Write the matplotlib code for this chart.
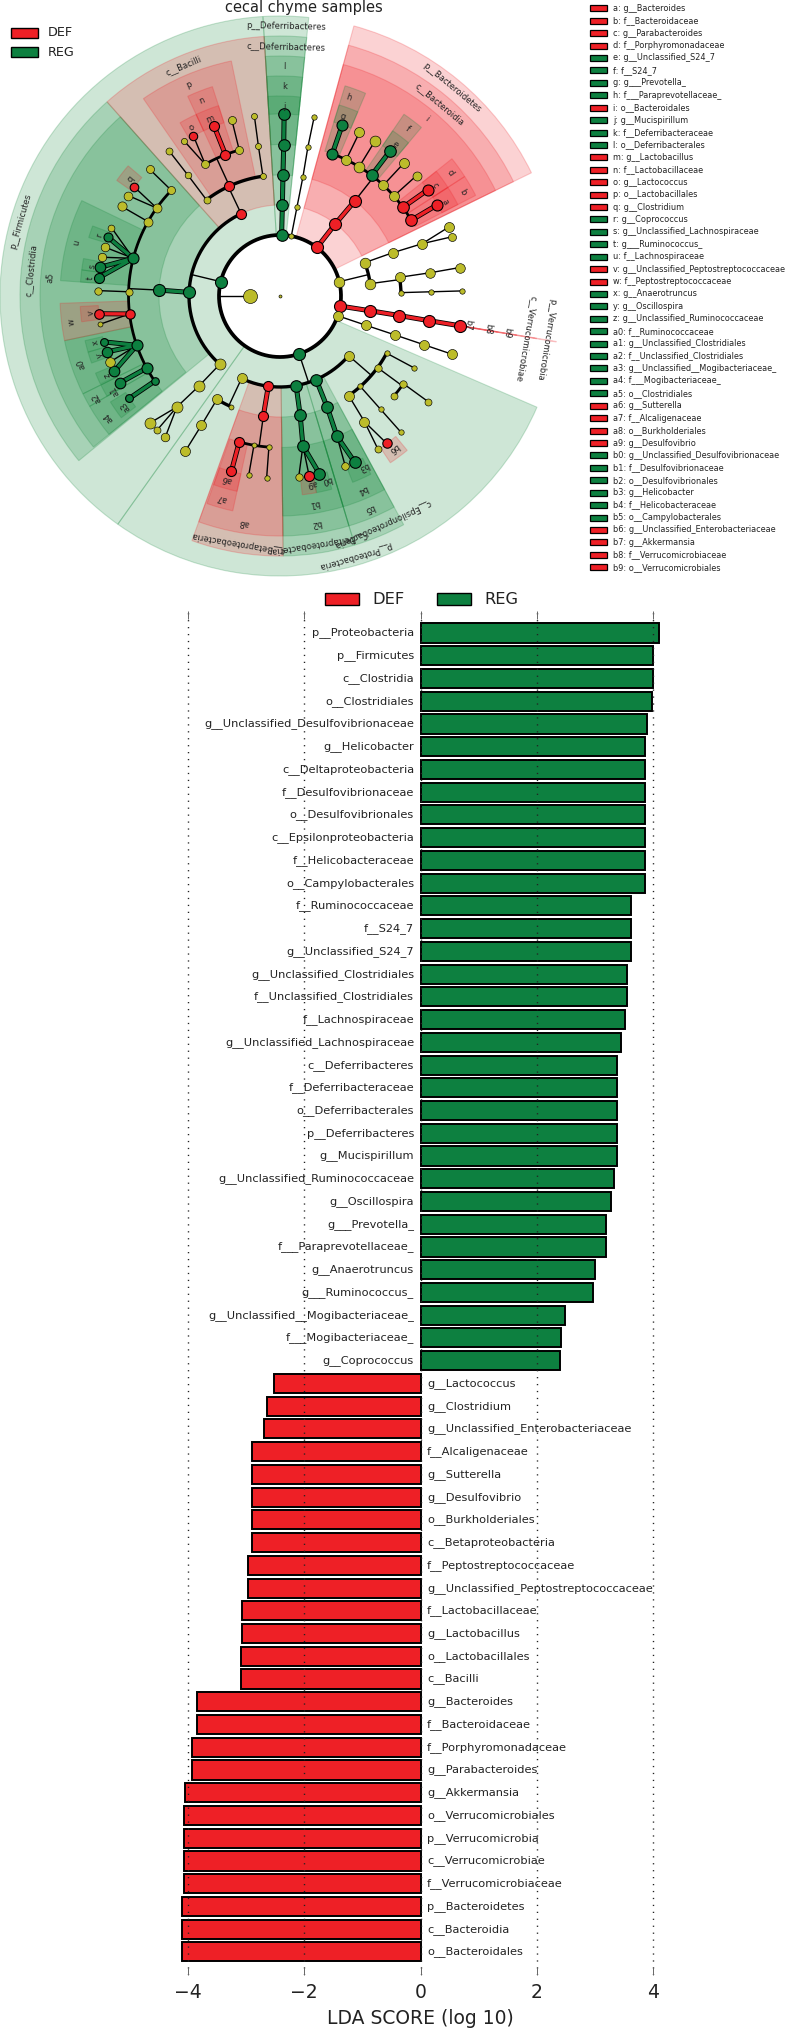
import numpy as np
from matplotlib import pyplot as plt
from matplotlib.colors import to_rgba
from matplotlib.patches import Rectangle

RED = '#ee2026'
GREEN = '#0d8040'
YELLOW = '#bcbc2a'
BAND_GREEN = '#0e8436'
node_colors = {'r': RED, 'g': GREEN, 'y': YELLOW}
band_colors = {'r': RED, 'g': BAND_GREEN}
key_colors = {'r': RED, 'g': GREEN}

# bar chart values, top to bottom
bar_labels = [
    'p__Proteobacteria', 'p__Firmicutes', 'c__Clostridia', 'o__Clostridiales',
    'g__Unclassified_Desulfovibrionaceae', 'g__Helicobacter', 'c__Deltaproteobacteria',
    'f__Desulfovibrionaceae', 'o__Desulfovibrionales', 'c__Epsilonproteobacteria',
    'f__Helicobacteraceae', 'o__Campylobacterales', 'f__Ruminococcaceae', 'f__S24_7',
    'g__Unclassified_S24_7', 'g__Unclassified_Clostridiales', 'f__Unclassified_Clostridiales',
    'f__Lachnospiraceae', 'g__Unclassified_Lachnospiraceae', 'c__Deferribacteres',
    'f__Deferribacteraceae', 'o__Deferribacterales', 'p__Deferribacteres', 'g__Mucispirillum',
    'g__Unclassified_Ruminococcaceae', 'g__Oscillospira', 'g___Prevotella_',
    'f___Paraprevotellaceae_', 'g__Anaerotruncus', 'g___Ruminococcus_',
    'g__Unclassified__Mogibacteriaceae_', 'f___Mogibacteriaceae_', 'g__Coprococcus',
    'g__Lactococcus', 'g__Clostridium', 'g__Unclassified_Enterobacteriaceae', 'f__Alcaligenaceae',
    'g__Sutterella', 'g__Desulfovibrio', 'o__Burkholderiales', 'c__Betaproteobacteria',
    'f__Peptostreptococcaceae', 'g__Unclassified_Peptostreptococcaceae', 'f__Lactobacillaceae',
    'g__Lactobacillus', 'o__Lactobacillales', 'c__Bacilli', 'g__Bacteroides', 'f__Bacteroidaceae',
    'f__Porphyromonadaceae', 'g__Parabacteroides', 'g__Akkermansia', 'o__Verrucomicrobiales',
    'p__Verrucomicrobia', 'c__Verrucomicrobiae', 'f__Verrucomicrobiaceae', 'p__Bacteroidetes',
    'c__Bacteroidia', 'o__Bacteroidales',
]
reg_scores = [4.09, 4.0, 3.99, 3.98, 3.9, 3.86, 3.86, 3.86, 3.86, 3.85, 3.85, 3.85, 3.62, 3.61,
              3.61, 3.55, 3.55, 3.51, 3.44, 3.38, 3.38, 3.38, 3.38, 3.38, 3.33, 3.27, 3.18, 3.18,
              3.0, 2.96, 2.49, 2.42, 2.4]
def_scores = [-2.51, -2.64, -2.69, -2.89, -2.89, -2.89, -2.89, -2.89, -2.96, -2.96, -3.07, -3.07,
              -3.09, -3.09, -3.84, -3.84, -3.93, -3.93, -4.05, -4.06, -4.06, -4.06, -4.06, -4.09,
              -4.09, -4.09]

# side legend of the cladogram
key_ids = ['a', 'b', 'c', 'd', 'e', 'f', 'g', 'h', 'i', 'j', 'k', 'l', 'm', 'n', 'o', 'p', 'q', 'r',
           's', 't', 'u', 'v', 'w', 'x', 'y', 'z', 'a0', 'a1', 'a2', 'a3', 'a4', 'a5', 'a6', 'a7',
           'a8', 'a9', 'b0', 'b1', 'b2', 'b3', 'b4', 'b5', 'b6', 'b7', 'b8', 'b9']
key_names = ['g__Bacteroides', 'f__Bacteroidaceae', 'g__Parabacteroides', 'f__Porphyromonadaceae',
             'g__Unclassified_S24_7', 'f__S24_7', 'g___Prevotella_', 'f___Paraprevotellaceae_',
             'o__Bacteroidales', 'g__Mucispirillum', 'f__Deferribacteraceae', 'o__Deferribacterales',
             'g__Lactobacillus', 'f__Lactobacillaceae', 'g__Lactococcus', 'o__Lactobacillales',
             'g__Clostridium', 'g__Coprococcus', 'g__Unclassified_Lachnospiraceae', 'g___Ruminococcus_',
             'f__Lachnospiraceae', 'g__Unclassified_Peptostreptococcaceae', 'f__Peptostreptococcaceae',
             'g__Anaerotruncus', 'g__Oscillospira', 'g__Unclassified_Ruminococcaceae',
             'f__Ruminococcaceae', 'g__Unclassified_Clostridiales', 'f__Unclassified_Clostridiales',
             'g__Unclassified__Mogibacteriaceae_', 'f___Mogibacteriaceae_', 'o__Clostridiales',
             'g__Sutterella', 'f__Alcaligenaceae', 'o__Burkholderiales', 'g__Desulfovibrio',
             'g__Unclassified_Desulfovibrionaceae', 'f__Desulfovibrionaceae', 'o__Desulfovibrionales',
             'g__Helicobacter', 'f__Helicobacteraceae', 'o__Campylobacterales',
             'g__Unclassified_Enterobacteriaceae', 'g__Akkermansia', 'f__Verrucomicrobiaceae',
             'o__Verrucomicrobiales']
key_groups = list('rrrrggggrgggrrrrrggggrrggg') + list('ggggggrrrr') + list('ggggggrrrr')

# cladogram: taxonomic level of each ring, read as radius on the picture
level_radius = [0, 30, 61, 91, 121, 151.5, 182]
band_outer = {2: 280, 3: 260, 4: 240, 5: 220, 6: 200}

# nodes: id, parent, level, angle (deg clockwise from top), group, node size
root_nodes = [('root', None, 0, 0, 'y', 1.5), ('k', None, 1, 270, 'y', 7)]
deferri_nodes = [
    ('d2', 'k', 2, 1.5, 'g', 5.8), ('d3', 'd2', 3, 1.5, 'g', 5.8), ('d4', 'd3', 4, 1.4, 'g', 5.8),
    ('d5', 'd4', 5, 1.4, 'g', 5.8), ('d6', 'd5', 6, 1.3, 'g', 5.8),
    ('e2', 'k', 2, 10.7, 'y', 2.6), ('e3', 'e2', 3, 10.8, 'y', 2.7), ('e4', 'e3', 4, 10.9, 'y', 2.7),
    ('e5', 'e4', 5, 10.6, 'y', 2.7), ('e6', 'e5', 6, 10.8, 'y', 2.7),
]
bacteroid_nodes = [
    ('b2', 'k', 2, 37.3, 'r', 6), ('b3', 'b2', 3, 37.5, 'r', 6), ('b4', 'b3', 4, 38.2, 'r', 6),
    ('b5a', 'b4', 5, 20.2, 'g', 5.5), ('b5b', 'b4', 5, 25.9, 'y', 5), ('b5c', 'b4', 5, 31.5, 'y', 5.4),
    ('b5d', 'b4', 5, 37.2, 'g', 5.8), ('b5e', 'b4', 5, 43, 'y', 5), ('b5f', 'b4', 5, 48.7, 'y', 5),
    ('b5g', 'b4', 5, 54.2, 'r', 5.8), ('b5h', 'b4', 5, 60, 'r', 5.8),
    ('b6a', 'b5a', 6, 20, 'g', 5.5), ('b6b', 'b5b', 6, 25.9, 'y', 5), ('b6c', 'b5c', 6, 31.5, 'y', 5.4),
    ('b6d', 'b5d', 6, 37.2, 'g', 5.8), ('b6e', 'b5e', 6, 43, 'y', 5), ('b6f', 'b5f', 6, 48.6, 'y', 4.5),
    ('b6g', 'b5g', 6, 54.3, 'r', 5.5), ('b6h', 'b5h', 6, 59.9, 'r', 5.5),
]
upper_yellow_nodes = [
    ('u2', 'k', 2, 76.4, 'y', 5.3), ('u3a', 'u2', 3, 68.5, 'y', 5.3), ('u3b', 'u2', 3, 82.2, 'y', 5.3),
    ('u4a', 'u3a', 4, 69, 'y', 5), ('u5a', 'u4a', 5, 69.8, 'y', 5), ('u6a', 'u5a', 6, 67.8, 'y', 5),
    ('u6b', 'u5a', 6, 71, 'y', 4),
    ('u4b', 'u3b', 4, 81.1, 'y', 5), ('u4c', 'u3b', 4, 88.4, 'y', 2.7), ('u5b', 'u4b', 5, 81.2, 'y', 4.8),
    ('u6c', 'u5b', 6, 81, 'y', 4.8), ('u5c', 'u4c', 5, 88.4, 'y', 2.7), ('u6d', 'u5c', 6, 88.4, 'y', 2.7),
]
verruco_nodes = [
    ('v2', 'k', 2, 99.5, 'r', 6), ('v3', 'v2', 3, 99.3, 'r', 6), ('v4', 'v3', 4, 99.3, 'r', 6),
    ('v5', 'v4', 5, 99.4, 'r', 6), ('v6', 'v5', 6, 99.4, 'r', 6),
    ('w2', 'k', 2, 108.9, 'y', 5), ('w3', 'w2', 3, 108.8, 'y', 5), ('w4', 'w3', 4, 108.7, 'y', 5),
    ('w5', 'w4', 5, 108.7, 'y', 5), ('w6', 'w5', 6, 108.7, 'y', 5),
]
proteo_nodes = [
    ('p2', 'k', 2, 161.7, 'g', 6),
    ('py3', 'p2', 3, 131, 'y', 5), ('pe3', 'p2', 3, 156.6, 'g', 5.8), ('pd3', 'p2', 3, 169.8, 'g', 5.8),
    ('pb3', 'p2', 3, 187.4, 'r', 5), ('pz3', 'p2', 3, 205, 'y', 5),
    ('py4a', 'py3', 4, 118.2, 'y', 2.7), ('py4b', 'py3', 4, 126.3, 'y', 3.7), ('py4c', 'py3', 4, 138.4, 'y', 2.7),
    ('py4d', 'py3', 4, 145.4, 'y', 5),
    ('py5a', 'py4a', 5, 118.2, 'y', 2.7), ('py5b', 'py4b', 5, 125.4, 'y', 3.7), ('py5c', 'py4b', 5, 131.2, 'y', 3.5),
    ('py6b', 'py5b', 6, 125.5, 'y', 3.5), ('py5d', 'py4c', 5, 138.4, 'y', 2.7), ('py6d', 'py5d', 6, 138.4, 'y', 2.7),
    ('py5e', 'py4d', 5, 146.1, 'y', 5), ('py6e', 'py5e', 6, 144.1, 'r', 4.7), ('py6f', 'py5e', 6, 147.4, 'y', 3.5),
    ('pe4', 'pe3', 4, 157, 'g', 5.8), ('pe5', 'pe4', 5, 157.9, 'g', 5.8), ('pe6a', 'pe5', 6, 155.8, 'g', 5.8),
    ('pe6b', 'pe5', 6, 159, 'y', 3.8),
    ('pd4', 'pd3', 4, 170.4, 'g', 5.8), ('pd5', 'pd4', 5, 171.3, 'g', 5.8), ('pd6a', 'pd5', 6, 167.5, 'g', 5.8),
    ('pd6b', 'pd5', 6, 170.8, 'r', 5), ('pd6c', 'pd5', 6, 174.1, 'y', 3.7),
    ('pb4', 'pb3', 4, 187.9, 'r', 5), ('pb5a', 'pb4', 5, 184.2, 'y', 2.7), ('pb5b', 'pb4', 5, 189.9, 'y', 2.5),
    ('pb5c', 'pb4', 5, 195.6, 'r', 5), ('pb6a', 'pb5a', 6, 184.2, 'y', 2.7), ('pb6b', 'pb5b', 6, 189.9, 'y', 2.7),
    ('pb6c', 'pb5c', 6, 195.5, 'r', 5),
    ('pz4a', 'pz3', 4, 204, 'y', 2.5), ('pz4b', 'pz3', 4, 211.4, 'y', 5), ('pz5', 'pz4b', 5, 211.3, 'y', 5),
    ('pz6', 'pz5', 6, 211.4, 'y', 5),
]
firmi_nodes = [
    ('f2', 'k', 2, 283.6, 'g', 6), ('fy3', 'f2', 3, 221.4, 'y', 5.5), ('fc3', 'f2', 3, 272.3, 'g', 6),
    ('fb3', 'f2', 3, 334.7, 'r', 5),
    ('fy4', 'fy3', 4, 222, 'y', 5.5), ('fy5', 'fy4', 5, 222.9, 'y', 5.5), ('fy6a', 'fy5', 6, 225.7, 'y', 5.5),
    ('fy6b', 'fy5', 6, 222.5, 'y', 3.5), ('fy6c', 'fy5', 6, 219.1, 'y', 4.3),
    ('fb4a', 'fb3', 4, 322.6, 'y', 3.5), ('fb4b', 'fb3', 4, 335.3, 'r', 5), ('fb4c', 'fb3', 4, 351.9, 'y', 3),
    ('fb5a', 'fb4a', 5, 322.7, 'y', 3.3), ('fb6a', 'fb5a', 6, 322.6, 'y', 3.5),
    ('fb5b', 'fb4b', 5, 330.4, 'y', 4), ('fb5c', 'fb4b', 5, 338.9, 'r', 5), ('fb5d', 'fb4b', 5, 344.4, 'y', 4),
    ('fb6b', 'fb5b', 6, 328.3, 'y', 3.1), ('fb6c', 'fb5b', 6, 331.6, 'r', 4.2), ('fb6d', 'fb5c', 6, 338.8, 'r', 5),
    ('fb6e', 'fb5d', 6, 344.7, 'y', 4),
    ('fb5e', 'fb4c', 5, 351.8, 'y', 3), ('fb6f', 'fb5e', 6, 351.9, 'y', 3),
]
clostri_nodes = [
    ('c4', 'fc3', 4, 272.8, 'g', 6),
    ('c5a', 'c4', 5, 235.8, 'g', 3.8), ('c5b', 'c4', 5, 241.6, 'g', 5.5), ('c5c', 'c4', 5, 251, 'g', 5.5),
    ('c5d', 'c4', 5, 263.2, 'r', 4.7), ('c5e', 'c4', 5, 271.6, 'y', 3.6), ('c5f', 'c4', 5, 284.4, 'g', 5.5),
    ('c5g', 'c4', 5, 299.4, 'y', 4.5), ('c5h', 'c4', 5, 305.5, 'y', 4.5), ('c5i', 'c4', 5, 314.2, 'y', 4),
    ('c6a', 'c5a', 6, 235.8, 'g', 3.9), ('c6b', 'c5b', 6, 241.5, 'g', 5.3),
    ('c6c', 'c5c', 6, 245.6, 'g', 5.3), ('c6d', 'c5c', 6, 248.8, 'y', 4.8), ('c6e', 'c5c', 6, 252.1, 'g', 5.2),
    ('c6f', 'c5c', 6, 255.4, 'g', 3.9), ('c6g', 'c5d', 6, 261.1, 'y', 2.5), ('c6h', 'c5d', 6, 264.4, 'r', 4.8),
    ('c6i', 'c5e', 6, 271.7, 'y', 3.7), ('c6j', 'c5f', 6, 275.8, 'g', 5), ('c6k', 'c5f', 6, 279.1, 'g', 5.3),
    ('c6l', 'c5f', 6, 282.3, 'y', 4.2), ('c6m', 'c5f', 6, 285.6, 'y', 4.3), ('c6n', 'c5f', 6, 288.9, 'g', 4.5),
    ('c6o', 'c5f', 6, 292.1, 'y', 3.4), ('c6p', 'c5g', 6, 299.5, 'y', 4.6), ('c6q', 'c5h', 6, 303.5, 'y', 4.4),
    ('c6r', 'c5h', 6, 306.8, 'r', 4.3), ('c6s', 'c5i', 6, 314.2, 'y', 4),
]
tree_nodes = (root_nodes + deferri_nodes + bacteroid_nodes + upper_yellow_nodes + verruco_nodes
              + proteo_nodes + firmi_nodes + clostri_nodes)

# shaded bands: label, level, start angle, end angle, group, label angle
phylum_bands = [
    ('p__Deferribacteres', 2, -3.5, 5.9, 'g', 1.3), ('p__Bacteroidetes', 2, 15.3, 63.9, 'r', 39.6),
    ('p__Verrucomicrobia', 2, 99.35, 99.45, 'r', 99.2), ('p__Proteobacteria', 2, 113.4, 215.4, 'g', 163.9),
    ('p__Firmicutes', 2, 215.4, 356.5, 'g', 286),
]
class_bands = [
    ('c__Deferribacteres', 3, -3.5, 5.9, 'g', 1.3), ('c__Bacteroidia', 3, 15.3, 63.9, 'r', 39.7),
    ('c__Verrucomicrobiae', 3, 99.35, 99.45, 'r', 99.9), ('c__Epsilonproteobacteria', 3, 151.6, 163.3, 'g', 155.8),
    ('c__Deltaproteobacteria', 3, 163.3, 179.3, 'g', 171), ('c__Betaproteobacteria', 3, 179.3, 199.8, 'r', 189.6),
    ('c__Clostridia', 3, 230.7, 318.3, 'g', 276), ('c__Bacilli', 3, 318.3, 356.5, 'r', 337.2),
]
order_bands = [
    ('l', 4, -3.5, 5.9, 'g', 1.2), ('i', 4, 15.3, 63.9, 'r', 39.6), ('b9', 4, 99.35, 99.45, 'r', 99.1),
    ('b5', 4, 151.6, 163.3, 'g', 157.1), ('b2', 4, 163.3, 179.3, 'g', 170.9), ('a8', 4, 179.3, 199.8, 'r', 189.1),
    ('a5', 4, 231, 318.3, 'g', 274.5), ('p', 4, 325.3, 348.3, 'r', 336.8),
]
family_bands = [
    ('k', 5, -3.5, 5.9, 'g', 1.4), ('h', 5, 17.2, 22.9, 'g', 19.1), ('f', 5, 34.3, 40, 'g', 37.3),
    ('d', 5, 51.4, 57.1, 'r', 54.2), ('b', 5, 57.1, 62.8, 'r', 60.3), ('b8', 5, 99.35, 99.45, 'r', 99),
    ('b4', 5, 151.6, 163.3, 'g', 156.8), ('b1', 5, 163.3, 179.3, 'g', 170.7), ('a7', 5, 192.4, 199.4, 'r', 196),
    ('a4', 5, 231, 239.9, 'g', 234.7), ('a2', 5, 239.9, 243.6, 'g', 241), ('a0', 5, 243.6, 258.3, 'g', 251),
    ('w', 5, 258.3, 268.1, 'r', 263), ('u', 5, 274, 295.7, 'g', 284.7), ('n', 5, 335.2, 342.1, 'r', 338.2),
]
genus_bands = [
    ('j', 6, -3.5, 5.9, 'g', 1.3), ('g', 6, 17.2, 22.9, 'g', 19.1), ('e', 6, 34.3, 40, 'g', 37.2),
    ('c', 6, 51.4, 57.1, 'r', 54.5), ('a', 6, 57.1, 62.8, 'r', 60.5), ('b7', 6, 99.35, 99.45, 'r', 98.8),
    ('b6', 6, 140.5, 146.5, 'r', 143.2), ('b3', 6, 153, 158.7, 'g', 154), ('b0', 6, 165, 169.5, 'g', 165.8),
    ('a9', 6, 169.5, 173.6, 'r', 170.5), ('a6', 6, 192.4, 199.4, 'r', 196.2), ('a3', 6, 232.5, 238, 'g', 234.5),
    ('a1', 6, 239.9, 243.6, 'g', 240.2), ('z', 6, 243.9, 247.3, 'g', 245.3), ('y', 6, 250.4, 253.7, 'g', 252),
    ('x', 6, 253.7, 257.1, 'g', 256), ('v', 6, 262.6, 267, 'r', 265), ('t', 6, 274, 277.5, 'g', 275.5),
    ('s', 6, 277.5, 280.8, 'g', 279), ('r', 6, 287, 290.5, 'g', 288.6), ('q', 6, 305.3, 310.6, 'r', 308),
    ('o', 6, 330, 335.2, 'r', 332.4), ('m', 6, 335.2, 342.1, 'r', 338.3),
]
all_bands = phylum_bands + class_bands + order_bands + family_bands + genus_bands

W, H = 787, 2028
fig = plt.figure(figsize=(W / 100, H / 100), dpi=100)


def px_rect(x0, y0, x1, y1):
    return [x0 / W, 1 - y1 / H, (x1 - x0) / W, (y1 - y0) / H]


# ---- cladogram ----
cx, cy, rmax = 280, 296, 283
pol = fig.add_axes(px_rect(cx - rmax, cy - rmax, cx + rmax, cy + rmax), projection='polar')
pol.set_theta_zero_location('N')
pol.set_theta_direction(-1)

for label, level, a0, a1, group, label_ang in all_bands:
    inner = level_radius[level]
    outer = band_outer[level]
    col = band_colors[group]
    pol.bar(np.deg2rad((a0 + a1) / 2), outer - inner, width=np.deg2rad(a1 - a0), bottom=inner,
            facecolor=to_rgba(col, 0.2), edgecolor=to_rgba(col, 0.22), linewidth=0.8, zorder=1)
    pol.text(np.deg2rad(label_ang), outer - 10, label, rotation=-label_ang, rotation_mode='anchor',
             ha='center', va='center', fontsize=6, color='#222222', zorder=6)

by_id = {n[0]: n for n in tree_nodes}
children = {}
for n in tree_nodes:
    if n[1] is not None:
        children.setdefault(n[1], []).append(n)
arc_width = {2: 2.7, 3: 2.4, 4: 2.4, 5: 2.0}

for pid, kids in children.items():
    parent = by_id[pid]
    p_ang = np.deg2rad(parent[3])
    p_r = level_radius[parent[2]]
    fan = len(kids) == 1 or kids[0][2] == 6
    if not fan:
        r_kid = level_radius[kids[0][2]]
        angs = sorted(k[3] for k in kids)
        if pid == 'k':
            # the phylum ring closes on itself
            angs = [angs[0], angs[0] + 360]
        theta = np.deg2rad(np.arange(angs[0], angs[-1] + 0.5, 0.5))
        pol.plot(theta, np.full(len(theta), r_kid), color='black', lw=arc_width[kids[0][2]],
                 solid_capstyle='round', zorder=3)
        pol.plot([p_ang, p_ang], [p_r, r_kid], color='black', lw=1, zorder=2.5)
        continue
    for k in kids:
        k_ang = np.deg2rad(k[3])
        k_r = level_radius[k[2]]
        if k[4] == parent[4] and k[4] != 'y':
            pol.plot([p_ang, k_ang], [p_r, k_r], color='black', lw=3.6, zorder=3, solid_capstyle='butt')
            pol.plot([p_ang, k_ang], [p_r, k_r], color=node_colors[k[4]], lw=2.4, zorder=3.1,
                     solid_capstyle='butt')
        else:
            pol.plot([p_ang, k_ang], [p_r, k_r], color='black', lw=1, zorder=2.5)

for nid, par, level, ang, group, size in tree_nodes:
    pol.scatter(np.deg2rad(ang), level_radius[level], s=(2 * size * 0.72) ** 2, color=node_colors[group],
                edgecolors='black', linewidths=0.8 if group != 'y' else 0.45, zorder=5)

pol.set_ylim(0, rmax)
pol.set_axis_off()

# ---- bar chart ----
y_top = 633
y_step = 22.74
x_zero = 420.5
x_unit = 58.2
ax_top, ax_bottom = 611, 1975
ax = fig.add_axes(px_rect(x_zero - 4.5 * x_unit, ax_top, x_zero + 4.5 * x_unit, ax_bottom))
scores = reg_scores + def_scores
ypos = np.arange(len(scores))
bar_cols = [GREEN if s > 0 else RED for s in scores]
ax.barh(ypos, scores, height=0.84, color=bar_cols, edgecolor='black', linewidth=1.4, zorder=2)
for y, lab, s in zip(ypos, bar_labels, scores):
    if s > 0:
        ax.text(-0.11, y, lab, ha='right', va='center', fontsize=8.2, color='#222222', zorder=1)
    else:
        ax.text(0.11, y, lab, ha='left', va='center', fontsize=8.2, color='#222222', zorder=1)
ax.set_xlim(-4.5, 4.5)
ax.set_ylim((ax_bottom - y_top) / y_step, (ax_top - y_top) / y_step)
ax.set_xticks([-4, -2, 0, 2, 4])
ax.set_yticks([])
ax.set_axisbelow(False)
ax.grid(axis='x', linestyle=(0, (0.9, 4.1)), color='#222222', linewidth=1, zorder=3)
ax.tick_params(axis='x', top=True, bottom=True, direction='in', length=5.8, width=0.7,
               labelsize=13.5, pad=6, color='#666666', labelcolor='#222222')
for sp in ax.spines.values():
    sp.set_visible(False)
ax.set_xlabel('LDA SCORE (log 10)', fontsize=13.5, labelpad=5, color='#222222')

# ---- legends and title, placed in picture pixels ----
ov = fig.add_axes([0, 0, 1, 1])
ov.set_xlim(0, W)
ov.set_ylim(H, 0)
ov.set_axis_off()
ov.patch.set_alpha(0)

ov.text(304, 7.5, 'cecal chyme samples', ha='center', va='center', fontsize=10.5, color='#222222')
for name, col, y in [('DEF', RED, 33), ('REG', GREEN, 52)]:
    ov.add_patch(Rectangle((11, y - 5), 27, 10, facecolor=col, edgecolor='black', lw=1))
    ov.text(48, y, name, ha='left', va='center', fontsize=9.2, color='#222222')

for name, col, x0 in [('DEF', RED, 325), ('REG', GREEN, 437)]:
    ov.add_patch(Rectangle((x0, 593), 34, 12, facecolor=col, edgecolor='black', lw=1))
    ov.text(x0 + 47, 599, name, ha='left', va='center', fontsize=11.7, color='#222222')

for i, (kid, kname, grp) in enumerate(zip(key_ids, key_names, key_groups)):
    y = 8.3 + i * 12.42
    ov.add_patch(Rectangle((590, y - 3), 16.5, 6, facecolor=key_colors[grp], edgecolor='black', lw=0.9))
    ov.text(613, y, kid + ': ' + kname, ha='left', va='center', fontsize=5.9, color='#222222')

fig.savefig('out.png', dpi=100)
plt.close(fig)
